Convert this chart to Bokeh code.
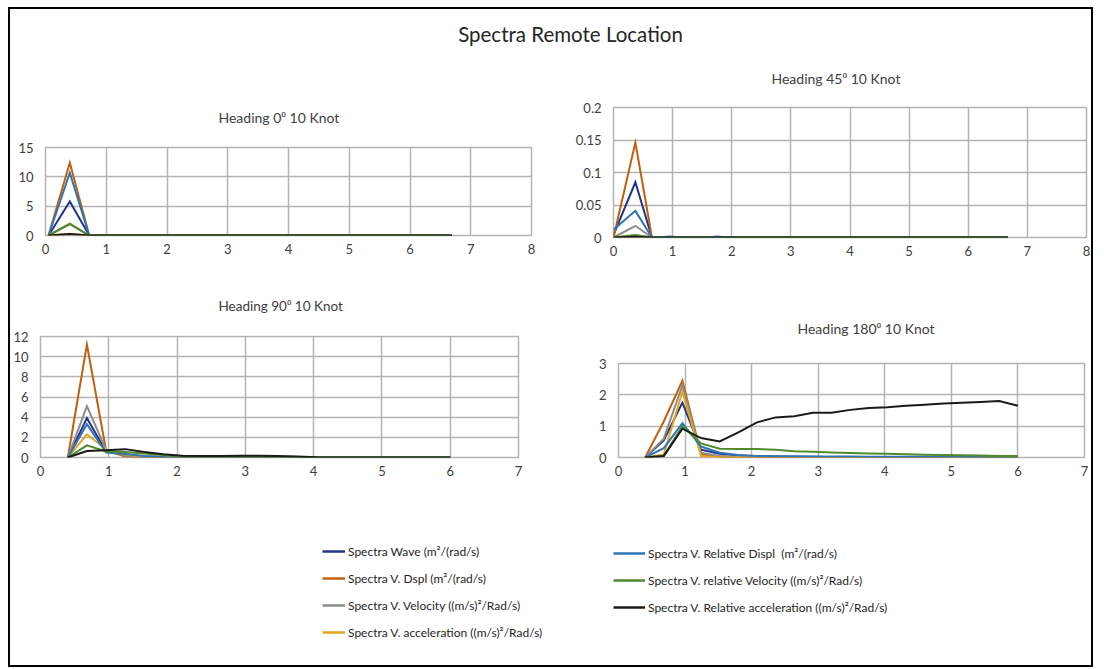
from bokeh.plotting import figure
from bokeh.models import Range1d, FixedTicker, NumeralTickFormatter, Label, Legend, LegendItem
from bokeh.layouts import column, row
from bokeh.embed import file_html
from bokeh.resources import INLINE

FONT = "Lato"
TXT = "#404040"
GRID = "#B4B4B4"

series_names = [
    "Spectra Wave (m\u00b2/(rad/s)",
    "Spectra V. Dspl (m\u00b2/(rad/s)",
    "Spectra V. Velocity ((m/s)\u00b2/Rad/s)",
    "Spectra V. acceleration ((m/s)\u00b2/Rad/s)",
    "Spectra V. Relative Displ  (m\u00b2/(rad/s)",
    "Spectra V. relative Velocity ((m/s)\u00b2/Rad/s)",
    "Spectra V. Relative acceleration ((m/s)\u00b2/Rad/s)",
]
series_colors = ["#22338A", "#C0600F", "#8C8C8C", "#E3A51C", "#2F75B5", "#4F8A2B", "#1A1A1A"]

# ---- Heading 0 deg ----
h0_freq = [0.05, 0.40, 0.72, 1.20, 1.70, 2.20, 2.70, 3.20, 3.70, 4.20, 4.70, 5.20, 5.70, 6.20, 6.69]
h0_wave = [0, 5.8, 0, 0, 0, 0, 0, 0, 0, 0, 0, 0, 0, 0, 0]
h0_dspl = [0, 12.4, 0, 0, 0, 0, 0, 0, 0, 0, 0, 0, 0, 0, 0]
h0_vel = [0, 1.95, 0, 0, 0, 0, 0, 0, 0, 0, 0, 0, 0, 0, 0]
h0_acc = [0, 0.31, 0, 0, 0, 0, 0, 0, 0, 0, 0, 0, 0, 0, 0]
h0_rel_dspl = [0, 10.7, 0, 0, 0, 0, 0, 0, 0, 0, 0, 0, 0, 0, 0]
h0_rel_vel = [0, 2.0, 0, 0, 0, 0, 0, 0, 0, 0, 0, 0, 0, 0, 0]
h0_rel_acc = [0, 0.25, 0, 0, 0, 0, 0, 0, 0, 0, 0, 0, 0, 0, 0]

# ---- Heading 45 deg ----
h45_freq = [0.0, 0.37, 0.65, 0.95, 1.25, 1.50, 1.75, 2.05, 2.60, 3.20, 3.80, 4.40, 5.00, 5.60, 6.20, 6.67]
h45_wave = [0.004, 0.085, 0, 0.001, 0, 0, 0.001, 0, 0, 0, 0, 0, 0, 0, 0, 0]
h45_dspl = [0, 0.146, 0, 0, 0, 0, 0, 0, 0, 0, 0, 0, 0, 0, 0, 0]
h45_vel = [0, 0.018, 0, 0, 0, 0, 0, 0, 0, 0, 0, 0, 0, 0, 0, 0]
h45_acc = [0, 0.003, 0, 0, 0, 0, 0, 0, 0, 0, 0, 0, 0, 0, 0, 0]
h45_rel_dspl = [0.012, 0.041, 0, 0.001, 0, 0, 0.001, 0, 0, 0, 0, 0, 0, 0, 0, 0]
h45_rel_vel = [0, 0.004, 0, 0, 0, 0, 0, 0, 0, 0, 0, 0, 0, 0, 0, 0]
h45_rel_acc = [0, 0.001, 0, 0, 0, 0, 0, 0, 0, 0, 0, 0, 0, 0, 0, 0]

# ---- Heading 90 deg ----
h90_freq = [0.40, 0.68, 0.96, 1.24, 1.52, 1.80, 2.08, 2.36, 2.64, 2.92, 3.20,
            3.48, 3.76, 4.04, 4.32, 4.60, 4.88, 5.16, 5.44, 5.72, 6.00]
h90_wave = [0, 3.9, 0.6, 0.25, 0.1, 0.05, 0.02, 0.01, 0.01, 0, 0, 0, 0, 0, 0, 0, 0, 0, 0, 0, 0]
h90_dspl = [0, 11.2, 0.7, 0.1, 0.03, 0.01, 0, 0, 0, 0, 0, 0, 0, 0, 0, 0, 0, 0, 0, 0, 0]
h90_vel = [0, 5.1, 0.75, 0.2, 0.06, 0.02, 0.01, 0, 0, 0, 0, 0, 0, 0, 0, 0, 0, 0, 0, 0, 0]
h90_acc = [0, 2.3, 0.8, 0.3, 0.12, 0.05, 0.02, 0.01, 0, 0, 0, 0, 0, 0, 0, 0, 0, 0, 0, 0, 0]
h90_rel_dspl = [0, 3.3, 0.5, 0.35, 0.15, 0.06, 0.03, 0.02, 0.01, 0, 0, 0, 0, 0, 0, 0, 0, 0, 0, 0, 0]
h90_rel_vel = [0, 1.2, 0.6, 0.55, 0.4, 0.25, 0.12, 0.1, 0.1, 0.1, 0.1, 0.08, 0.05, 0.02, 0.01, 0, 0, 0, 0, 0, 0]
h90_rel_acc = [0, 0.65, 0.73, 0.83, 0.55, 0.33, 0.17, 0.16, 0.16, 0.17, 0.17, 0.15, 0.1, 0.02, 0.01, 0, 0, 0, 0, 0, 0]

# ---- Heading 180 deg ----
h180_freq = [0.40, 0.68, 0.96, 1.24, 1.52, 1.80, 2.08, 2.36, 2.64, 2.92, 3.20,
             3.48, 3.76, 4.04, 4.32, 4.60, 4.88, 5.16, 5.44, 5.72, 6.00]
h180_wave = [0, 0.55, 1.75, 0.25, 0.12, 0.06, 0.04, 0.03, 0.02, 0.02, 0.01, 0.01, 0.01, 0.01, 0.01, 0, 0, 0, 0, 0, 0]
h180_dspl = [0, 1.15, 2.45, 0.1, 0.03, 0.01, 0.01, 0, 0, 0, 0, 0, 0, 0, 0, 0, 0, 0, 0, 0, 0]
h180_vel = [0, 0.6, 2.3, 0.15, 0.05, 0.02, 0.01, 0, 0, 0, 0, 0, 0, 0, 0, 0, 0, 0, 0, 0, 0]
h180_acc = [0, 0.1, 2.1, 0.05, 0.01, 0, 0, 0, 0, 0, 0, 0, 0, 0, 0, 0, 0, 0, 0, 0, 0]
h180_rel_dspl = [0, 0.3, 1.1, 0.35, 0.15, 0.08, 0.05, 0.04, 0.04, 0.03, 0.03, 0.03, 0.02, 0.02, 0.02, 0.02, 0.02, 0.02, 0.01, 0.01, 0.01]
h180_rel_vel = [0, 0.05, 1.0, 0.45, 0.28, 0.27, 0.27, 0.25, 0.2, 0.18, 0.16, 0.14, 0.13, 0.12, 0.1, 0.09, 0.08, 0.07, 0.06, 0.05, 0.05]
h180_rel_acc = [0, 0.05, 0.92, 0.62, 0.51, 0.8, 1.12, 1.28, 1.32, 1.43, 1.43, 1.52, 1.58, 1.6, 1.65, 1.68, 1.72, 1.75, 1.77, 1.8, 1.65]

x_ticks_8 = [0, 1, 2, 3, 4, 5, 6, 7, 8]
x_ticks_7 = [0, 1, 2, 3, 4, 5, 6, 7]
h0_yticks = [0, 5, 10, 15]
h45_yticks = [0, 0.05, 0.1, 0.15, 0.2]
h90_yticks = [0, 2, 4, 6, 8, 10, 12]
h180_yticks = [0, 1, 2, 3]

titles = ["Heading 0\u2070 10 Knot", "Heading 45\u2070 10 Knot",
          "Heading  90\u2070 10 Knot", "Heading 180\u2070 10 Knot"]


def panel(title, xs, ys_list, xticks, yticks, W, H, ml, mr, mt, mb, toff, tstand,
          tsize="14px", yfmt="0"):
    p = figure(width=W, height=H, x_range=Range1d(xticks[0], xticks[-1]),
               y_range=Range1d(yticks[0], yticks[-1]), toolbar_location=None,
               output_backend="svg", min_border_left=ml, min_border_right=mr,
               min_border_top=mt, min_border_bottom=mb)
    p.title.text = title
    p.title.align = "left"
    p.title.offset = toff
    p.title.standoff = tstand
    p.title.text_font = FONT
    p.title.text_font_size = tsize
    p.title.text_font_style = "normal"
    p.title.text_color = TXT
    p.xaxis.ticker = FixedTicker(ticks=xticks)
    p.yaxis.ticker = FixedTicker(ticks=yticks)
    p.yaxis.formatter = NumeralTickFormatter(format=yfmt)
    for ax in (p.xaxis, p.yaxis):
        ax.axis_line_color = None
        ax.major_tick_line_color = None
        ax.minor_tick_line_color = None
        ax.major_tick_out = 0
        ax.major_tick_in = 0
        ax.minor_tick_out = 0
        ax.minor_tick_in = 0
        ax.major_label_text_font = FONT
        ax.major_label_text_font_size = "13px"
        ax.major_label_text_color = TXT
    p.xaxis.major_label_standoff = 8
    p.yaxis.major_label_standoff = 12
    p.grid.grid_line_color = GRID
    p.grid.grid_line_width = 1.5
    p.outline_line_color = GRID
    p.outline_line_width = 1.5
    p.background_fill_color = "white"
    for ys, c in zip(ys_list, series_colors):
        p.line(xs, ys, line_color=c, line_width=2, line_join="miter")
    return p


p1 = panel(titles[0], h0_freq,
           [h0_wave, h0_dspl, h0_vel, h0_acc, h0_rel_dspl, h0_rel_vel, h0_rel_acc],
           x_ticks_8, h0_yticks, 556, 224, 35, 35, 101, 35, 173, 44)
p2 = panel(titles[1], h45_freq,
           [h45_wave, h45_dspl, h45_vel, h45_acc, h45_rel_dspl, h45_rel_vel, h45_rel_acc],
           x_ticks_8, h45_yticks, 525, 224, 47, 5, 61, 33, 158, 41, yfmt="0.[00]")
p3 = panel(titles[2], h90_freq,
           [h90_wave, h90_dspl, h90_vel, h90_acc, h90_rel_dspl, h90_rel_vel, h90_rel_acc],
           x_ticks_7, h90_yticks, 556, 220, 30, 48, 66, 33, 178, 45, tsize="13.5px")
p4 = panel(titles[3], h180_freq,
           [h180_wave, h180_dspl, h180_vel, h180_acc, h180_rel_dspl, h180_rel_vel, h180_rel_acc],
           x_ticks_7, h180_yticks, 525, 220, 52, 7, 93, 33, 179, 54)

# main title strip
tf = figure(width=1081, height=37, x_range=Range1d(0, 1081), y_range=Range1d(0, 37),
            x_axis_type=None, y_axis_type=None, toolbar_location=None,
            output_backend="svg", min_border=0)
tf.grid.visible = False
tf.outline_line_color = None
tf.add_layout(Label(x=560, y=13, text="Spectra Remote Location", text_align="center",
                    text_baseline="middle", text_font=FONT, text_font_size="20.5px",
                    text_line_height=1.0, text_color="#262626"))

# legend strip
lf = figure(width=1081, height=175, x_range=Range1d(0, 1), y_range=Range1d(0, 1),
            x_axis_type=None, y_axis_type=None, toolbar_location=None,
            output_backend="svg", min_border=0)
lf.grid.visible = False
lf.outline_line_color = None
items = []
for name, c in zip(series_names, series_colors):
    r = lf.line(x=[float("nan")], y=[float("nan")], line_color=c, line_width=2.5)
    items.append(LegendItem(label=name, renderers=[r]))


def mk_legend(its, loc, gw):
    return Legend(items=its, location=loc, orientation="vertical", padding=0, margin=0,
                  spacing=7, glyph_width=gw, glyph_height=20, label_height=20,
                  label_standoff=3, label_text_font=FONT, label_text_font_size="12px",
                  label_text_color="#262626", border_line_color=None,
                  background_fill_alpha=0)


lf.add_layout(mk_legend(items[:4], (312, 23), 23))
lf.add_layout(mk_legend(items[4:], (603, 48), 32))

row1 = row(column(p1), column(p2))
row2 = row(column(p3), column(p4))
root = column(tf, row1, row2, lf, margin=(7, 0, 0, 8),
              styles={"border": "2px solid #000000"})

open("out.html", "w").write(file_html(root, INLINE))
